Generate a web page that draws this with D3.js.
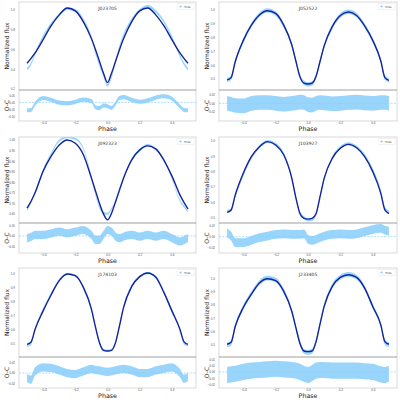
<!DOCTYPE html>
<html>
<head>
<meta charset="utf-8">
<script src="https://cdn.jsdelivr.net/npm/d3@7"></script>
<style>
  body { margin: 0; background: #fff; }
  svg { display: block; font-family: "DejaVu Sans", sans-serif; }
</style>
</head>
<body>
<div id="chart"></div>
<script>
// phase grid the curves were read on
var phase = [-0.5, -0.475, -0.45, -0.4, -0.35, -0.3, -0.25, -0.2, -0.15, -0.1, -0.075, -0.05, -0.025, 0,
             0.025, 0.05, 0.075, 0.1, 0.15, 0.2, 0.25, 0.3, 0.35, 0.4, 0.45, 0.475, 0.5];

var names = ["J023705", "J052522", "J092323", "J103927", "J174103", "J233405"];

// model fits (normalized flux)
var modelJ023705 = [0.46, 0.51, 0.565, 0.70, 0.84, 0.95, 1.02, 0.99, 0.88, 0.71, 0.60, 0.48, 0.36, 0.265,
                    0.36, 0.48, 0.60, 0.71, 0.88, 0.99, 1.02, 0.95, 0.84, 0.70, 0.565, 0.51, 0.46];
var modelJ052522 = [0.493, 0.51, 0.625, 0.78, 0.89, 0.964, 0.995, 0.975, 0.89, 0.746, 0.63, 0.517, 0.47, 0.464,
                    0.47, 0.52, 0.63, 0.74, 0.88, 0.96, 0.985, 0.96, 0.885, 0.78, 0.63, 0.51, 0.49];
var modelJ092323 = [0.677, 0.71, 0.75, 0.852, 0.923, 0.976, 1.0, 0.984, 0.93, 0.82, 0.76, 0.70, 0.65, 0.622,
                    0.653, 0.708, 0.765, 0.82, 0.905, 0.953, 0.972, 0.958, 0.905, 0.83, 0.74, 0.705, 0.674];
var modelJ103927 = [0.534, 0.55, 0.647, 0.79, 0.898, 0.963, 0.996, 0.974, 0.91, 0.756, 0.63, 0.527, 0.495, 0.49,
                    0.495, 0.527, 0.64, 0.756, 0.887, 0.952, 0.978, 0.956, 0.898, 0.80, 0.658, 0.55, 0.527];
var modelJ174103 = [0.495, 0.512, 0.603, 0.735, 0.851, 0.952, 1.0, 0.988, 0.904, 0.748, 0.62, 0.507, 0.452, 0.447,
                    0.452, 0.507, 0.63, 0.76, 0.909, 0.981, 1.007, 0.976, 0.868, 0.735, 0.603, 0.514, 0.495];
var modelJ233405 = [0.505, 0.52, 0.638, 0.78, 0.88, 0.963, 0.995, 0.98, 0.90, 0.75, 0.63, 0.513, 0.455, 0.45,
                    0.455, 0.525, 0.66, 0.788, 0.938, 1.005, 1.025, 1.005, 0.925, 0.788, 0.65, 0.525, 0.505];

// O-C residuals (centre of the TESS point cloud)
var ocJ023705 = [-0.057, -0.055, -0.01, 0.032, 0.018, -0.002, -0.007, 0.004, 0.02, 0.01, -0.035, -0.042, -0.022, -0.028,
                 -0.04, -0.008, 0.033, 0.038, 0.018, 0.005, 0.015, 0.035, 0.045, 0.028, -0.03, -0.055, -0.057];
var ocJ052522 = [0.0, -0.002, -0.005, -0.006, 0.0, 0.002, 0.002, 0.0, -0.002, 0.0, 0.001, 0.003, 0.002, -0.003,
                 -0.004, 0.0, 0.002, 0.001, -0.001, 0.0, 0.002, 0.003, 0.001, 0.0, 0.002, 0.002, 0.0];
var ocJ092323 = [-0.011, -0.005, 0.005, 0.005, 0.013, 0.021, 0.013, 0.021, 0.029, 0.005, -0.019, -0.019, 0.005, 0.029,
                 0.021, -0.003, -0.011, -0.003, 0.005, -0.003, 0.005, -0.003, 0.005, -0.011, -0.027, -0.02, -0.011];
var ocJ103927 = [0.007, 0.001, -0.011, -0.011, -0.007, -0.002, 0.001, 0.004, 0.005, 0.004, 0.004, 0.004, 0.005, -0.005,
                 -0.007, -0.005, -0.002, 0.001, 0.004, 0.005, 0.004, 0.005, 0.009, 0.013, 0.015, 0.012, 0.01];
var ocJ174103 = [-0.01, -0.013, 0.003, 0.011, 0.01, 0.005, 0.0, -0.002, 0.003, 0.008, 0.006, 0.005, 0.003, 0.002,
                 0.003, 0.005, 0.007, 0.008, 0.005, 0.0, 0.0, 0.005, 0.008, 0.011, 0.0, -0.011, -0.008];
var ocJ233405 = [-0.005, -0.004, -0.003, 0.0, 0.002, 0.003, 0.004, 0.005, 0.004, 0.003, 0.002, 0.0, -0.003, -0.005,
                 -0.002, 0.002, 0.003, 0.003, 0.002, 0.002, 0.002, 0.002, 0.001, 0.0, -0.004, -0.005, -0.003];

// half width of the point cloud: in the O-C panel and around the light curve
var ocSpread = [0.015, 0.017, 0.02, 0.008, 0.008, 0.013];
var fluxSpread = [0.014, 0.016, 0.005, 0.01, 0.008, 0.018];

var models = [modelJ023705, modelJ052522, modelJ092323, modelJ103927, modelJ174103, modelJ233405];
var residuals = [ocJ023705, ocJ052522, ocJ092323, ocJ103927, ocJ174103, ocJ233405];

// axis limits and ticks
var fluxRange = [[0.19, 1.08], [0.42, 1.058], [0.607, 1.014], [0.465, 1.026], [0.404, 1.043], [0.41, 1.075]];
var ocRange = [[-0.135, 0.09], [-0.041, 0.031], [-0.083, 0.063], [-0.03, 0.025], [-0.029, 0.031], [-0.026, 0.024]];
var fluxTicks = [
    [0.2, 0.4, 0.6, 0.8, 1.0],
    [0.5, 0.6, 0.7, 0.8, 0.9, 1.0],
    [0.65, 0.70, 0.75, 0.80, 0.85, 0.90, 0.95, 1.00],
    [0.5, 0.6, 0.7, 0.8, 0.9, 1.0],
    [0.5, 0.6, 0.7, 0.8, 0.9, 1.0],
    [0.5, 0.6, 0.7, 0.8, 0.9, 1.0]
];
var fluxFormat = [".1f", ".1f", ".2f", ".1f", ".1f", ".1f"];
var ocTicks = [
    [-0.10, -0.05, 0.0, 0.05],
    [-0.02, 0.0, 0.02],
    [-0.05, 0.0, 0.05],
    [-0.02, 0.0, 0.02],
    [-0.02, 0.0, 0.02],
    [-0.02, -0.01, 0.0, 0.01, 0.02]
];
var phaseTicks = [-0.4, -0.2, 0.0, 0.2, 0.4];

var pointColor = "#87cefa";
var lineColor = "#11249c";

var cols = [{left: 19, right: 196}, {left: 219, right: 397}];
var rows = [
    {top: 2, split: 90, bottom: 121},
    {top: 137, split: 223, bottom: 253},
    {top: 268, split: 357, bottom: 388}
];

var svg = d3.select("#chart").append("svg")
    .attr("width", 400)
    .attr("height", 400);

function styleAxis(g) {
    g.select(".domain").remove();
    g.selectAll("text")
        .style("font-size", "3px")
        .attr("fill", "#555");
}

function drawPanel(i) {
    var c = cols[i % 2], r = rows[Math.floor(i / 2)];
    var model = models[i], oc = residuals[i];

    var x = d3.scaleLinear().domain([-0.55, 0.55]).range([c.left, c.right]);
    var y = d3.scaleLinear().domain(fluxRange[i]).range([r.split, r.top]);
    var yr = d3.scaleLinear().domain(ocRange[i]).range([r.bottom, r.split]);

    var g = svg.append("g");

    // clip paths so nothing leaks past the frames
    g.append("clipPath").attr("id", "clipM" + i)
        .append("rect")
        .attr("x", c.left).attr("y", r.top)
        .attr("width", c.right - c.left).attr("height", r.split - r.top);
    g.append("clipPath").attr("id", "clipR" + i)
        .append("rect")
        .attr("x", c.left).attr("y", r.split)
        .attr("width", c.right - c.left).attr("height", r.bottom - r.split);

    // TESS points (observed = model + O-C), drawn as the cloud they form
    var band = d3.area()
        .x(function (p) { return x(p); })
        .y0(function (p, j) { return y(model[j] + oc[j] - fluxSpread[i]); })
        .y1(function (p, j) { return y(model[j] + oc[j] + fluxSpread[i]); })
        .curve(d3.curveMonotoneX);
    g.append("path")
        .datum(phase)
        .attr("clip-path", "url(#clipM" + i + ")")
        .attr("d", band)
        .attr("fill", pointColor)
        .attr("fill-opacity", 0.85);

    // model line
    var line = d3.line()
        .x(function (p) { return x(p); })
        .y(function (p, j) { return y(model[j]); })
        .curve(d3.curveMonotoneX);
    g.append("path")
        .datum(phase)
        .attr("clip-path", "url(#clipM" + i + ")")
        .attr("d", line)
        .attr("fill", "none")
        .attr("stroke", lineColor)
        .attr("stroke-width", 1.4);

    // residual cloud
    var ocBand = d3.area()
        .x(function (p) { return x(p); })
        .y0(function (p, j) { return yr(oc[j] - ocSpread[i]); })
        .y1(function (p, j) { return yr(oc[j] + ocSpread[i]); })
        .curve(d3.curveMonotoneX);
    g.append("path")
        .datum(phase)
        .attr("clip-path", "url(#clipR" + i + ")")
        .attr("d", ocBand)
        .attr("fill", pointColor)
        .attr("fill-opacity", 0.85);

    // zero line
    g.append("line")
        .attr("x1", c.left).attr("x2", c.right)
        .attr("y1", yr(0)).attr("y2", yr(0))
        .attr("stroke", pointColor)
        .attr("stroke-width", 0.7)
        .attr("stroke-dasharray", "2,1.3");

    // frames
    g.append("rect")
        .attr("x", c.left).attr("y", r.top)
        .attr("width", c.right - c.left).attr("height", r.bottom - r.top)
        .attr("fill", "none")
        .attr("stroke", "#cfcfcf")
        .attr("stroke-width", 0.8);
    g.append("line")
        .attr("x1", c.left).attr("x2", c.right)
        .attr("y1", r.split).attr("y2", r.split)
        .attr("stroke", "#777")
        .attr("stroke-width", 0.7);

    // axes
    g.append("g")
        .attr("transform", "translate(" + c.left + ",0)")
        .call(d3.axisLeft(y).tickValues(fluxTicks[i]).tickSize(0).tickPadding(4)
            .tickFormat(d3.format(fluxFormat[i])))
        .call(styleAxis);
    g.append("g")
        .attr("transform", "translate(" + c.left + ",0)")
        .call(d3.axisLeft(yr).tickValues(ocTicks[i]).tickSize(0).tickPadding(4)
            .tickFormat(d3.format(".2f")))
        .call(styleAxis);
    g.append("g")
        .attr("transform", "translate(0," + r.bottom + ")")
        .call(d3.axisBottom(x).tickValues(phaseTicks).tickSize(0).tickPadding(1.2)
            .tickFormat(d3.format(".1f")))
        .call(styleAxis);

    // labels
    g.append("text")
        .attr("transform", "translate(" + (c.left - 10) + "," + ((r.top + r.split) / 2) + ") rotate(-90)")
        .attr("text-anchor", "middle")
        .style("font-size", "6px")
        .attr("fill", "#222")
        .text("Normalized flux");
    g.append("text")
        .attr("transform", "translate(" + (c.left - 10) + "," + ((r.split + r.bottom) / 2) + ") rotate(-90)")
        .attr("text-anchor", "middle")
        .style("font-size", "6px")
        .attr("fill", "#222")
        .text("O-C");
    g.append("text")
        .attr("x", (c.left + c.right) / 2)
        .attr("y", r.bottom + 10.3)
        .attr("text-anchor", "middle")
        .style("font-size", "6.3px")
        .attr("fill", "#222")
        .text("Phase");
    g.append("text")
        .attr("x", (c.left + c.right) / 2)
        .attr("y", r.top + 7.5)
        .attr("text-anchor", "middle")
        .style("font-size", "4.5px")
        .attr("fill", "#333")
        .text(names[i]);

    // legend
    var lg = g.append("g").attr("transform", "translate(" + (c.right - 19) + "," + (r.top + 1.5) + ")");
    lg.append("rect")
        .attr("width", 17).attr("height", 6).attr("rx", 0.6)
        .attr("fill", "#fff").attr("stroke", "#ddd").attr("stroke-width", 0.4);
    lg.append("circle")
        .attr("cx", 3.5).attr("cy", 3).attr("r", 1.1)
        .attr("fill", pointColor);
    lg.append("text")
        .attr("x", 7).attr("y", 4)
        .style("font-size", "2.6px")
        .attr("fill", "#444")
        .text("TESS");
}

for (var i = 0; i < names.length; i++) {
    drawPanel(i);
}
</script>
</body>
</html>
